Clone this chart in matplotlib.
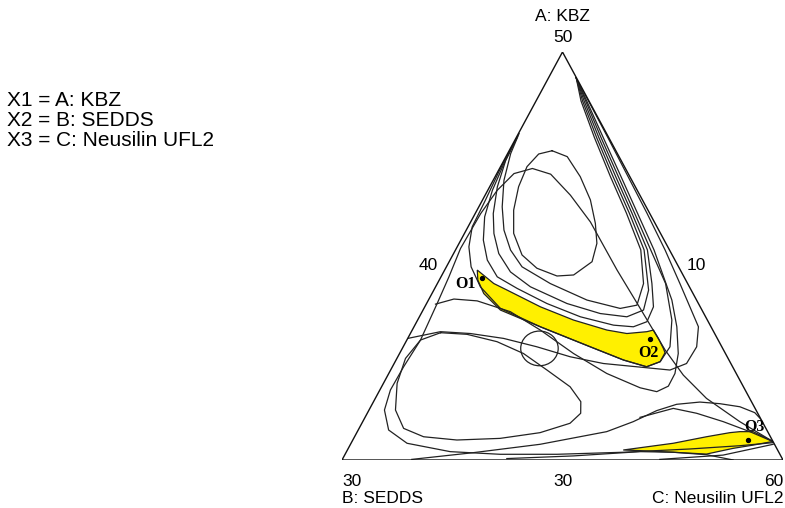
import matplotlib.pyplot as plt
from matplotlib.patches import Polygon, Ellipse

plt.rcParams['font.family'] = ['Liberation Sans', 'DejaVu Sans']

# mixture region: A = KBZ 30-50, B = SEDDS 10-30, C = Neusilin UFL2 40-60 (sum 100)
A_LOW, B_LOW, C_LOW, SPAN = 30, 10, 40, 20

# contour lines, as (KBZ, SEDDS) in %; Neusilin = 100 - both
loop_top_kbz = [45.16, 44.87, 43.89, 42.75, 41.60, 40.62, 39.72, 39.07, 39.02, 39.40, 40.05, 41.11, 42.25, 43.40, 44.38, 45.00, 45.16]
loop_top_sedds = [12.89, 12.35, 12.25, 12.36, 12.71, 13.13, 13.80, 14.96, 15.74, 16.46, 16.81, 16.66, 16.09, 15.29, 14.42, 13.58, 12.89]

outer_kbz = [30.90, 31.88, 33.02, 34.16, 35.39, 37.43, 39.31, 41.67, 42.98, 44.01, 44.29, 44.04, 43.22, 42.08, 40.94, 40.37,
             38.98, 37.67, 35.88, 34.57, 33.43, 32.45, 31.47, 30.82, 30.41, 30.28, 30.28, 30.38, 30.54, 30.70, 30.85]
outer_sedds = [10.00, 11.02, 11.96, 12.44, 12.65, 12.76, 12.87, 12.90, 13.15, 13.53, 14.22, 15.18, 16.35, 17.67, 18.85, 19.44,
               20.66, 21.85, 23.50, 24.92, 26.09, 26.85, 27.15, 26.64, 24.89, 22.69, 20.12, 17.05, 13.96, 11.61, 10.03]

loop_low_kbz = [36.24, 36.16, 35.80, 35.22, 34.41, 33.59, 32.86, 32.29, 31.80, 31.34, 31.06, 30.98, 31.14, 31.55, 32.45, 33.76, 34.98, 35.88, 36.24]
loop_low_sedds = [22.41, 21.25, 20.07, 19.16, 18.50, 17.86, 17.74, 18.03, 18.76, 20.35, 22.30, 24.30, 25.73, 26.43, 26.35, 25.62, 24.63, 23.50, 22.41]

ridge1_kbz = [46.0, 45.02, 43.71, 42.41, 41.27, 40.29, 39.47, 38.65, 37.84, 37.43, 37.59, 38.65, 40.3, 42.1, 43.9, 45.8, 47.6, 48.74]
ridge1_sedds = [13.97, 14.84, 15.80, 16.53, 17.02, 17.21, 17.10, 16.23, 14.97, 13.67, 12.83, 12.0, 11.3, 11.05, 10.88, 10.65, 10.36, 10.01]

ridge2_kbz = [45.84, 44.69, 43.39, 42.08, 41.10, 40.12, 39.22, 38.49, 37.67, 37.18, 37.02, 37.35, 38.33, 40.3, 42.1, 43.9, 45.8, 47.6, 48.74]
ridge2_sedds = [14.12, 15.23, 16.26, 17.10, 17.56, 17.83, 17.75, 17.21, 15.96, 14.70, 13.57, 12.65, 11.93, 11.15, 10.92, 10.76, 10.55, 10.29, 10.01]

ridge3_kbz = [45.80, 44.53, 43.22, 41.92, 40.78, 39.80, 38.98, 38.41, 37.67, 37.02, 36.61, 36.53, 36.78, 37.51, 38.65, 40.3, 42.1, 43.9, 45.8, 47.6, 48.74]
ridge3_sedds = [14.18, 15.39, 16.57, 17.57, 18.20, 18.51, 18.47, 17.85, 16.87, 15.68, 14.38, 13.52, 12.78, 12.12, 11.62, 11.0, 10.8, 10.64, 10.45, 10.22, 10.01]

ridge4_kbz = [45.67, 44.12, 42.65, 41.43, 40.45, 39.47, 38.49, 37.43, 36.53, 35.55, 34.90, 34.57, 34.82, 35.55, 36.86, 38.65, 40.3, 42.1, 43.9, 45.8, 47.6, 48.74]
ridge4_sedds = [14.32, 15.83, 17.21, 18.38, 19.02, 19.41, 19.48, 19.10, 17.74, 15.97, 14.78, 13.90, 13.16, 12.35, 11.61, 11.0, 10.85, 10.68, 10.52, 10.35, 10.15, 10.01]

ridge5_kbz = [37.64, 37.89, 37.80, 37.27, 36.37, 35.22, 34.24, 33.54, 33.35, 33.62, 34.24, 35.22, 36.53, 37.84, 40.3, 42.1, 43.9, 45.8, 47.6, 48.74]
ridge5_sedds = [21.94, 20.98, 19.97, 18.73, 17.82, 16.89, 15.87, 14.71, 14.05, 13.39, 12.78, 12.14, 11.55, 11.12, 10.7, 10.55, 10.4, 10.25, 10.1, 10.01]

ridge6_kbz = [35.96, 36.29, 36.20, 35.96, 35.55, 35.06, 34.73, 34.57, 34.41, 34.73, 35.55, 36.53, 38.65, 40.3, 42.1, 43.9, 45.8, 47.6, 48.74]
ridge6_sedds = [24.04, 22.39, 21.08, 19.69, 18.39, 17.12, 15.78, 14.35, 12.92, 12.01, 11.14, 10.57, 10.35, 10.2, 10.12, 10.08, 10.04, 10.02, 10.01]

rise_kbz = [30.03, 30.36, 30.77, 31.39, 31.88, 32.42, 32.73, 32.84, 32.76, 32.61, 32.32, 31.99]
rise_sedds = [26.82, 23.86, 20.63, 17.30, 15.85, 14.52, 13.46, 12.35, 11.48, 10.65, 10.12, 10.0]

branch_kbz = [32.09, 32.53, 32.29, 31.88, 31.39, 30.90]
branch_sedds = [15.44, 13.71, 12.77, 11.77, 10.81, 10.0]

base1_kbz = [30.07, 30.20, 30.41, 30.38, 30.26, 30.0]
base1_sedds = [22.49, 19.41, 16.28, 14.79, 13.34, 12.26]

base2_kbz = [30.03, 30.24, 30.77]
base2_sedds = [15.57, 12.60, 10.06]

# small closed contour (centre, radius in %)
ring_kbz, ring_sedds, ring_r = 35.47, 18.31, 0.85

# design space (yellow) regions
band_kbz = [39.31, 38.65, 38.33, 37.51, 36.86, 36.37, 36.20, 36.29, 36.37, 35.96, 35.47, 35.26, 34.82, 34.57, 34.90, 35.55, 36.53, 37.35, 38.16, 38.82]
band_sedds = [19.21, 18.79, 18.35, 17.25, 16.07, 14.80, 13.98, 13.03, 12.69, 12.67, 12.69, 12.72, 13.16, 13.90, 14.78, 15.97, 17.74, 19.14, 19.49, 19.43]

tail_kbz = [30.49, 30.82, 31.14, 31.34, 31.39, 31.39, 30.91, 30.73, 30.57, 30.29, 30.38, 30.46]
tail_sedds = [17.0, 14.57, 12.90, 11.74, 11.26, 10.66, 10.0, 10.99, 11.98, 13.33, 14.79, 16.26]

# optimum points
opt_kbz = [38.90, 35.93, 30.98]
opt_sedds = [19.19, 13.06, 11.08]
opt_labels = ['O1', 'O2', 'O3']
opt_offsets = [(-17, -6), (-2, -14), (6, 13)]

legend_lines = ['X1 = A: KBZ', 'X2 = B: SEDDS', 'X3 = C: Neusilin UFL2']


def to_xy(kbz, sedds):
    xs, ys = [], []
    for A, B in zip(kbz, sedds):
        C = 100 - A - B
        a = (A - A_LOW) / SPAN
        c = (C - C_LOW) / SPAN
        xs.append(c + 0.5 * a)
        ys.append(a)
    return xs, ys


fig = plt.figure(figsize=(7.85, 5.08), dpi=100)
ax = fig.add_axes([342 / 785, 48 / 508, 441 / 785, 408 / 508])
ax.set_xlim(0, 1)
ax.set_ylim(0, 1)
ax.axis('off')

# triangle (vertices A, B, C)
tx, ty = to_xy([50, 30, 30], [10, 30, 10])
tri = Polygon(list(zip(tx, ty)), closed=True, fill=False, edgecolor='#111111', lw=1.0, zorder=4)
ax.add_patch(tri)

for kb, se in [(band_kbz, band_sedds), (tail_kbz, tail_sedds)]:
    px, py = to_xy(kb, se)
    patch = Polygon(list(zip(px, py)), closed=True, facecolor='#FFF000', edgecolor='#222222', lw=0.9, zorder=1)
    ax.add_patch(patch)
    patch.set_clip_path(tri)

curves = [
    (loop_top_kbz, loop_top_sedds), (outer_kbz, outer_sedds), (loop_low_kbz, loop_low_sedds),
    (ridge1_kbz, ridge1_sedds), (ridge2_kbz, ridge2_sedds), (ridge3_kbz, ridge3_sedds),
    (ridge4_kbz, ridge4_sedds), (ridge5_kbz, ridge5_sedds), (ridge6_kbz, ridge6_sedds),
    (rise_kbz, rise_sedds), (branch_kbz, branch_sedds), (base1_kbz, base1_sedds), (base2_kbz, base2_sedds),
]
for kb, se in curves:
    cx, cy = to_xy(kb, se)
    line, = ax.plot(cx, cy, color='#222222', lw=0.9, zorder=2)
    line.set_clip_path(tri)

rx, ry = to_xy([ring_kbz], [ring_sedds])
ax.add_patch(Ellipse((rx[0], ry[0]), 2 * ring_r / SPAN, 2 * ring_r / SPAN,
                     fill=False, edgecolor='#222222', lw=0.9, zorder=2))

ox, oy = to_xy(opt_kbz, opt_sedds)
ax.scatter(ox, oy, s=8, color='black', zorder=5)
for x, y, lab, off in zip(ox, oy, opt_labels, opt_offsets):
    ax.annotate(lab, (x, y), xytext=off, textcoords='offset pixels', ha='center', va='center',
                fontsize=11.5, fontweight='bold', family=['Liberation Serif', 'DejaVu Serif'], zorder=6)

# vertex / edge labels
fs = 12.5
ax.text(0.5, 1.086, 'A: KBZ', ha='center', va='center', fontsize=fs, clip_on=False)
ax.text(0.5, 1.036, '50', ha='center', va='center', fontsize=fs, clip_on=False)
ax.text(0.196, 0.476, '40', ha='center', va='center', fontsize=fs, clip_on=False)
ax.text(0.803, 0.476, '10', ha='center', va='center', fontsize=fs, clip_on=False)
ax.text(0.022, -0.053, '30', ha='center', va='center', fontsize=fs, clip_on=False)
ax.text(0.5, -0.053, '30', ha='center', va='center', fontsize=fs, clip_on=False)
ax.text(0.978, -0.053, '60', ha='center', va='center', fontsize=fs, clip_on=False)
ax.text(0.0, -0.105, 'B: SEDDS', ha='left', va='baseline', fontsize=fs, clip_on=False)
ax.text(1.0, -0.105, 'C: Neusilin UFL2', ha='right', va='baseline', fontsize=fs, clip_on=False)

for i, txt in enumerate(legend_lines):
    fig.text(7 / 785, 1 - (101 + 19.7 * i) / 508, txt, ha='left', va='center', fontsize=15)

fig.savefig('out.png', dpi=100)
